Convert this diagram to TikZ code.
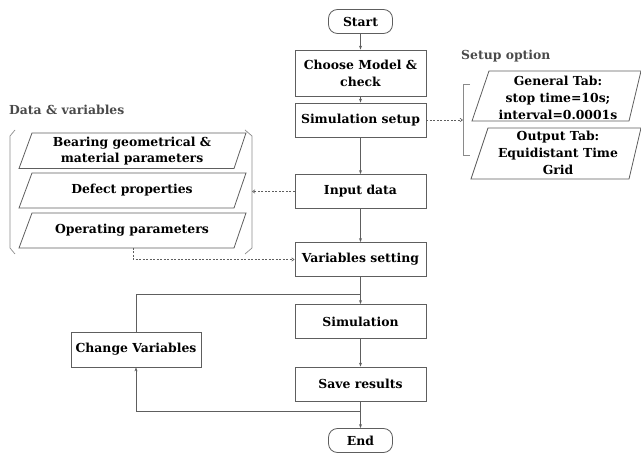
\documentclass[tikz,border=0pt]{standalone}
\usepackage{fontspec}
\setmainfont{DejaVu Serif}
\usetikzlibrary{arrows.meta}
\definecolor{lc}{HTML}{5E5E5E}
\definecolor{bc}{HTML}{8A8A8A}
\definecolor{lab}{HTML}{4A4A4A}
\begin{document}
\begin{tikzpicture}[x=1pt,y=-1pt,
  txt/.style={font=\bfseries\fontsize{12.4}{16.8}\selectfont,align=center,inner sep=0pt},
  box/.style={txt,draw=lc,line width=0.8pt,minimum width=131pt,minimum height=34pt},
  term/.style={box,rounded corners=9pt,minimum width=64pt,minimum height=24pt},
  pl/.style={draw=lc,line width=0.8pt},
  br/.style={draw=bc,line width=0.7pt},
  arr/.style={draw=lc,line width=0.7pt,-{Stealth[length=4pt,width=3pt]}},
  ln/.style={draw=lc,line width=0.7pt},
  darr/.style={draw=lc,line width=0.6pt,dash pattern=on 2pt off 1.5pt,-{Straight Barb[length=2.5pt,width=3.5pt]}},
  lbl/.style={font=\bfseries\fontsize{12.4}{15}\selectfont,text=lab,inner sep=0pt}]
\useasboundingbox (0,0) rectangle (641,454);

% main column
\node[term] (start) at (360.5,21.5) {Start};
\node[box,minimum height=46pt] (choose) at (360.5,73) {Choose Model \&\\check};
\node[box] (setup) at (360.5,120) {Simulation setup};
\node[box] (input) at (360.5,191.5) {Input data};
\node[box] (vars) at (360.5,259.5) {Variables setting};
\node[box] (sim) at (360.5,321.5) {Simulation};
\node[box] (save) at (360.5,384) {Save results};
\node[term] (end) at (360.5,440.5) {End};
\node[box,minimum width=130pt,minimum height=35pt] (change) at (136,349.5) {Change Variables};

\draw[arr] (start) -- (choose);
\draw[arr] (choose) -- (setup);
\draw[arr] (setup) -- (input);
\draw[arr] (input) -- (vars);
\draw[arr] (vars) -- (sim);
\draw[arr] (sim) -- (save);
\draw[arr] (save) -- (end);
\coordinate (jb) at (360.5,411);
\coordinate (jt) at (360.5,294);
\draw[arr] (jb) -| (change.south);
\draw[ln] (change.north) |- (jt);

% setup option
\node[lbl,anchor=west] (setlbl) at (461,56) {Setup option};
\draw[br] (470,84) -- (463,84) -- (463,155) -- (470,155);
\coordinate (sbr) at (463,120);
\draw[darr] (setup.east) -- (sbr);
\draw[pl] (489,71) -- (641,71) -- (629,121) -- (472,121) -- cycle;
\node[txt] (gen) at (558,98) {General Tab:\\stop time=10s;\\interval=0.0001s};
\draw[pl] (488,128) -- (641,128) -- (629,179) -- (471,179) -- cycle;
\node[txt] (out) at (558,153) {Output Tab:\\Equidistant Time\\Grid};

% data & variables
\node[lbl,anchor=west] (datalbl) at (9,110) {Data \& variables};
\draw[br] (15,130) -- (10,136) -- (10,248) -- (15,254);
\draw[br] (245,130) -- (252,136) -- (252,248) -- (245,254);
\draw[pl] (32,133) -- (246,133) -- (234,168.5) -- (19,168.5) -- cycle;
\node[txt] (bear) at (132,151) {Bearing geometrical \&\\material parameters};
\draw[pl] (32,173) -- (246,173) -- (234,208) -- (19,208) -- cycle;
\node[txt] (defect) at (132,190.5) {Defect properties};
\draw[pl] (32,213) -- (246,213) -- (234,248) -- (19,248) -- cycle;
\node[txt] (oper) at (132,230.5) {Operating parameters};
\coordinate (lbr) at (252,191.5);
\draw[darr] (input.west) -- (lbr);
\coordinate (opb) at (133,248);
\draw[darr] (opb) |- (vars.west);
\end{tikzpicture}
\end{document}
